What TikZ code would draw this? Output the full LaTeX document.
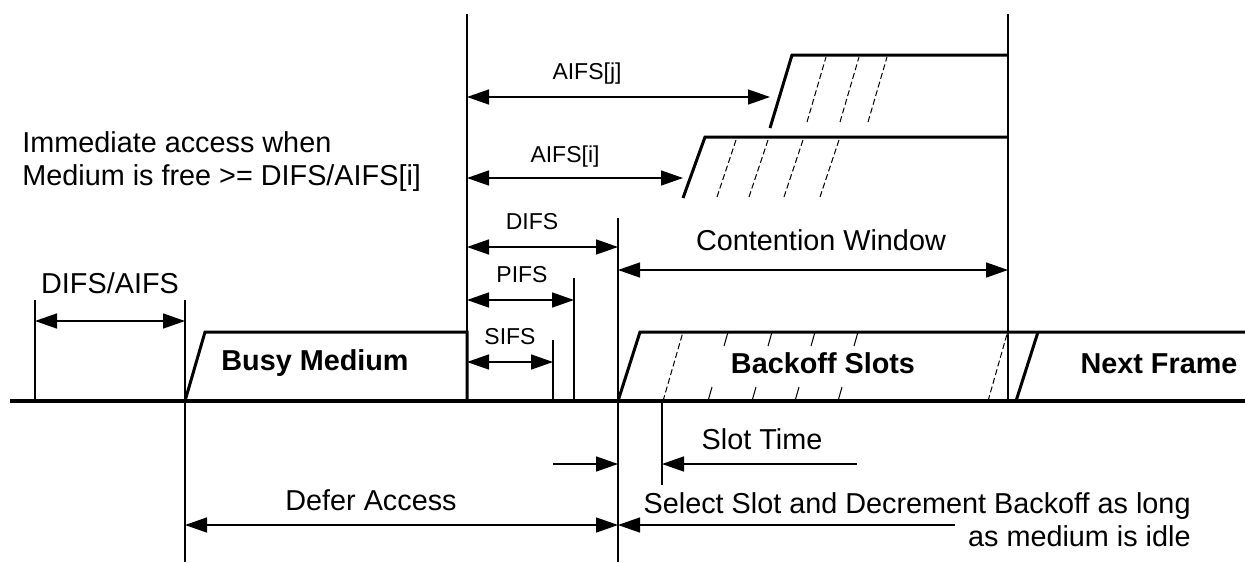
\documentclass[tikz,border=0pt]{standalone}
\usepackage{fontspec}
\setmainfont{Liberation Sans}
\usetikzlibrary{arrows.meta}
\tikzstyle{dim}=[line width=.75pt,{Triangle[length=11pt,width=7.5pt]}-{Triangle[length=11pt,width=7.5pt]}]
\tikzstyle{toarrow}=[line width=.75pt,-{Triangle[length=11pt,width=7.5pt]}]
\tikzstyle{tick}=[line width=.75pt]
\tikzstyle{frame}=[line width=1.5pt,line join=miter]
\tikzstyle{hatch}=[line width=.5pt,dash pattern=on 3pt off 1.5pt]
\tikzstyle{slotmark}=[line width=.5pt]
\tikzstyle{lbl}=[inner sep=0pt,font=\fontsize{14.4}{16.5}\selectfont]
\tikzstyle{small}=[inner sep=0pt,font=\fontsize{11.5}{13}\selectfont]
\tikzstyle{boxlbl}=[inner sep=0pt,font=\fontsize{14.4}{17}\selectfont\bfseries]

\begin{document}
\begin{tikzpicture}[x=.5pt,y=-.5pt]
      \useasboundingbox (0,0) rectangle (1245,562);

      % time marks
      \coordinate (d0t) at (35,300);   \coordinate (d0b) at (35,401);
      \coordinate (d1t) at (185,300);  \coordinate (d1b) at (185,562);
      \coordinate (bt) at (467,14);    \coordinate (bb) at (467,401);
      \coordinate (st) at (553,340);   \coordinate (sb) at (553,401);
      \coordinate (pt) at (574,278);   \coordinate (pb) at (574,401);
      \coordinate (ct) at (618,218);   \coordinate (cb) at (618,562);
      \coordinate (slt) at (662,401);  \coordinate (slb) at (662,485);
      \coordinate (nt) at (1008,14);   \coordinate (nb) at (1008,401);
      \coordinate (m0) at (10,401);    \coordinate (m1) at (1245,401);

      \foreach \t in {d0,d1,b,s,p,c,sl,n}{
        \draw[tick] (\t t) -- (\t b);
      }
      \draw[line width=2pt] (m0) -- (m1);

      % frames on the medium
      \draw[frame] (d1b |- m0) -- (205,332) -- (467,332) -- (bb);
      \draw[frame] (ct |- m0) -- (640,332) -- (1245,332);
      \draw[frame] (1016,401) -- (1038,332);
      \draw[frame] (770,128) -- (792,55) -- (nt |- 0,55);
      \draw[frame] (683,198) -- (705,137) -- (nt |- 0,137);

      % slot hatching
      \foreach \x in {807,840,868}{
        \draw[hatch] (\x,122) -- ++(19,-65);
      }
      \foreach \x in {717,749,784,820}{
        \draw[hatch] (\x,197) -- ++(20,-60);
      }
      \draw[hatch] (663,401) -- (683,332);
      \draw[hatch] (988,401) -- (1007,334);
      \foreach \x in {708,752,795,838}{
        \draw[slotmark] (\x,401) -- ++(4,-14);
        \draw[slotmark] (\x+16,346) -- ++(4,-14);
      }

      % intervals
      \draw[dim] (d0b |- 0,321) -- (d1b |- 0,321);
      \draw[dim] (bb |- 0,97) -- (770,97);
      \draw[dim] (bb |- 0,178) -- (683,178);
      \draw[dim] (bb |- 0,247) -- (ct |- 0,247);
      \draw[dim] (bb |- 0,300) -- (pb |- 0,300);
      \draw[dim] (bb |- 0,362) -- (sb |- 0,362);
      \draw[dim] (ct |- 0,270) -- (nt |- 0,270);
      \draw[dim] (d1b |- 0,525) -- (ct |- 0,525);
      \draw[toarrow] (553,464) -- (ct |- 0,464);
      \draw[toarrow] (857,464) -- (slt |- 0,464);
      \draw[toarrow] (955,525) -- (ct |- 0,525);

      \node[lbl] (difsaifs) at (110,283) {DIFS/AIFS};
      \node[lbl,align=left,anchor=north west] (imm) at (22,131) {Immediate access when\\Medium is free >= DIFS/AIFS[i]};
      \node[small] (aifsj) at (587,74) {AIFS[j]};
      \node[small] (aifsi) at (565,157) {AIFS[i]};
      \node[small] (difs) at (532,222) {DIFS};
      \node[small] (pifs) at (522,275) {PIFS};
      \node[small] (sifs) at (510,337) {SIFS};
      \node[lbl] (cw) at (821,240) {Contention Window};
      \node[boxlbl] (busy) at (315,363) {Busy Medium};
      \node[boxlbl] (backoff) at (823,363) {Backoff Slots};
      \node[boxlbl] (next) at (1159,364) {Next Frame};
      \node[lbl] (slot) at (762,439) {Slot Time};
      \node[lbl] (defer) at (371,500) {Defer Access};
      \node[lbl,align=right,anchor=north east] (sel) at (1191,492) {Select Slot and Decrement Backoff as long\\as medium is idle};
    \end{tikzpicture}
\end{document}
